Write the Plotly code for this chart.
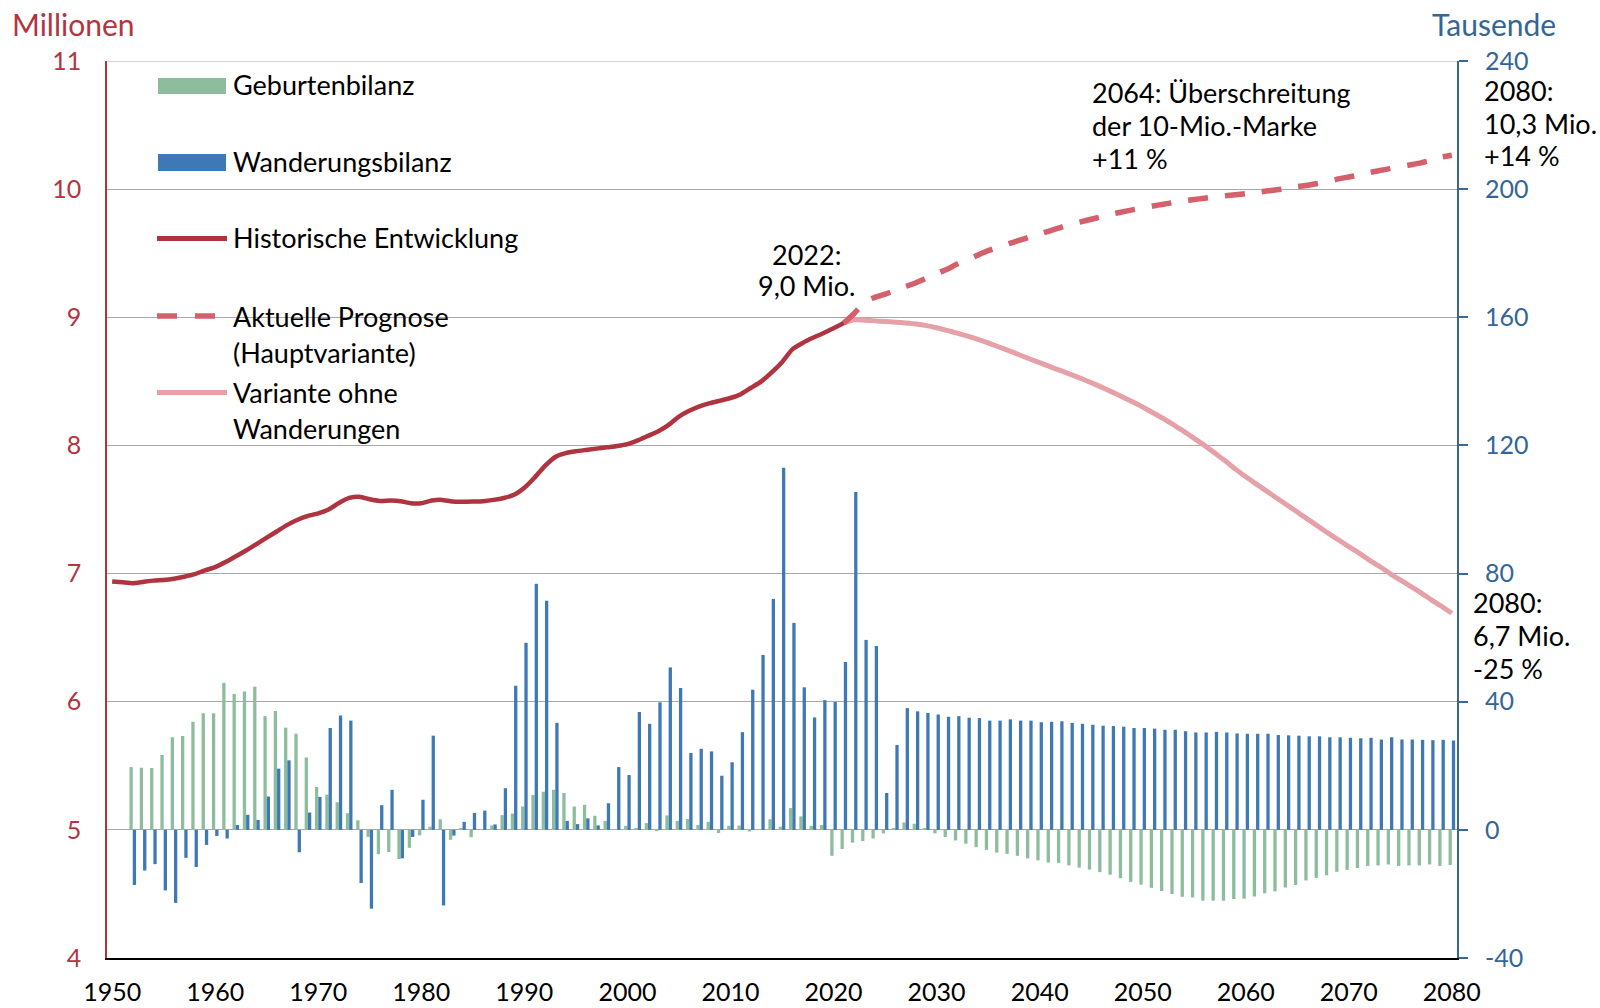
import plotly.graph_objects as go

# ---------------- data ----------------
bar_years = list(range(1952, 2081))
geburtenbilanz = [
    19.6, 19.4, 19.3, 23.4, 28.9, 29.3, 33.75, 36.4, 36.4,            # 1952-1960
    45.9, 42.4, 43.2, 44.7, 35.5, 37.1, 31.9, 30.0, 22.6, 13.4,       # 1961-1970
    11.0, 8.6, 5.2, 3.0, -2.2, -7.6, -6.9, -9.1, -5.6, -1.7,          # 1971-1980
    1.0, 3.3, -3.1, 0.6, -2.3, 0.2, 1.4, 4.6, 5.1, 7.3,               # 1981-1990
    10.9, 11.9, 12.5, 11.5, 7.3, 7.8, 4.4, 2.8, 0.2, 1.25,            # 1991-2000
    0.5, 2.1, -0.4, 4.5, 2.8, 3.4, 1.5, 2.5, -1.0, 1.25,              # 2001-2010
    1.35, -0.5, 0.1, 3.3, 1.0, 6.8, 4.2, 1.25, 1.5, -8.1,             # 2011-2020
    -6.0, -4.0, -3.5, -2.7, -1.1, 0.6, 2.3, 1.9, 0.4, -1.1,           # 2021-2030
    -2.2, -3.3, -4.3, -5.4, -6.25, -7.1, -7.5, -8.1, -8.9, -9.5,      # 2031-2040
    -10.2, -10.3, -11.1, -11.8, -12.4, -13.2, -14.0, -15.1, -16.25, -17.1,  # 2041-2050
    -18.1, -19.1, -20.0, -20.9, -21.1, -22.1, -22.1, -22.1, -21.6, -21.5,   # 2051-2060
    -20.8, -19.8, -19.2, -18.0, -17.2, -15.8, -15.0, -14.2, -13.1, -12.5,   # 2061-2070
    -11.9, -11.25, -11.1, -10.8, -11.25, -11.1, -11.1, -10.8, -11.25, -11.0 # 2071-2080
]
wanderungsbilanz = [
    -17.2, -12.7, -10.7, -18.9, -22.8, -8.75, -11.6, -4.7, -1.9,      # 1952-1960
    -2.7, 1.5, 4.7, 3.1, 10.4, 19.1, 21.7, -7.0, 5.4, 10.3,           # 1961-1970
    31.8, 35.7, 34.1, -16.6, -24.6, 7.7, 12.5, -8.9, -2.2, 9.4,       # 1971-1980
    29.4, -23.6, -1.8, 2.5, 5.3, 6.0, 1.7, 13.0, 45.0, 58.4,          # 1981-1990
    76.8, 71.5, 33.4, 2.8, 1.8, 3.6, 1.4, 8.3, 19.6, 17.1,            # 1991-2000
    36.8, 33.1, 39.8, 50.7, 44.3, 24.0, 25.3, 24.5, 16.9, 21.1,       # 2001-2010
    30.5, 43.75, 54.6, 72.1, 113.0, 64.6, 44.5, 35.1, 40.5, 39.9,     # 2011-2020
    52.4, 105.5, 59.3, 57.4, 11.5, 26.5, 38.0, 37.0, 36.5, 36.0,      # 2021-2030
    35.3, 35.5, 35.0, 34.9, 34.1, 34.1, 34.5, 34.1, 34.1, 33.6,       # 2031-2040
    33.75, 33.9, 33.4, 33.1, 32.8, 32.5, 32.4, 32.2, 31.8, 31.8,      # 2041-2050
    31.6, 31.25, 31.25, 30.8, 30.4, 30.4, 30.6, 30.4, 30.1, 30.0,     # 2051-2060
    30.0, 30.0, 29.6, 29.5, 29.4, 29.2, 29.2, 28.9, 28.9, 28.75,      # 2061-2070
    28.6, 28.75, 28.2, 28.9, 28.2, 28.2, 28.1, 28.0, 28.1, 27.9       # 2071-2080
]

hist_years = list(range(1950, 2022))
historische_entwicklung = [
    6.938, 6.932, 6.925, 6.935, 6.945, 6.950, 6.960, 6.975, 6.995, 7.025,   # 1950-1959
    7.050, 7.090, 7.135, 7.180, 7.230, 7.280, 7.330, 7.380, 7.420, 7.450,   # 1960-1969
    7.470, 7.500, 7.550, 7.590, 7.600, 7.580, 7.567, 7.570, 7.565, 7.548,   # 1970-1979
    7.549, 7.570, 7.575, 7.562, 7.560, 7.562, 7.565, 7.575, 7.590, 7.615,   # 1980-1989
    7.670, 7.750, 7.840, 7.910, 7.940, 7.955, 7.965, 7.975, 7.985, 7.995,   # 1990-1999
    8.010, 8.040, 8.075, 8.110, 8.160, 8.225, 8.270, 8.305, 8.330, 8.350,   # 2000-2009
    8.370, 8.400, 8.450, 8.500, 8.570, 8.650, 8.750, 8.800, 8.840, 8.875,   # 2010-2019
    8.915, 8.955                                                            # 2020-2021
]

prog_years = list(range(2021, 2081))
aktuelle_prognose = [
    8.955, 9.030, 9.115, 9.155, 9.180, 9.210, 9.240, 9.270, 9.305, 9.340,   # 2021-2030
    9.375, 9.415, 9.450, 9.485, 9.520, 9.548, 9.574, 9.600, 9.625, 9.650,   # 2031-2040
    9.675, 9.700, 9.725, 9.745, 9.765, 9.785, 9.805, 9.822, 9.838, 9.853,   # 2041-2050
    9.868, 9.882, 9.896, 9.908, 9.919, 9.929, 9.939, 9.948, 9.956, 9.965,   # 2051-2060
    9.975, 9.985, 9.995, 10.005, 10.020, 10.030, 10.045, 10.060, 10.080, 10.095,  # 2061-2070
    10.110, 10.130, 10.145, 10.160, 10.175, 10.190, 10.205, 10.225, 10.250, 10.265 # 2071-2080
]
variante_ohne_wanderungen = [
    8.955, 8.980, 8.977, 8.972, 8.967, 8.962, 8.955, 8.947, 8.935, 8.918,   # 2021-2030
    8.898, 8.876, 8.853, 8.828, 8.800, 8.770, 8.740, 8.708, 8.676, 8.646,   # 2031-2040
    8.615, 8.585, 8.555, 8.523, 8.490, 8.455, 8.418, 8.380, 8.340, 8.300,   # 2041-2050
    8.255, 8.210, 8.160, 8.110, 8.055, 8.000, 7.940, 7.880, 7.815, 7.755,   # 2051-2060
    7.700, 7.645, 7.590, 7.535, 7.480, 7.425, 7.370, 7.315, 7.263, 7.210,   # 2061-2070
    7.160, 7.105, 7.055, 7.000, 6.950, 6.900, 6.850, 6.795, 6.745, 6.690    # 2071-2080
]

x_ticks = list(range(1950, 2081, 10))
left_ticks = [4, 5, 6, 7, 8, 9, 10, 11]
right_ticks = [-40, 0, 40, 80, 120, 160, 200, 240]
right_tick_labels = ["-40", "0", "40", "80", "120", "160", "200", "240"]

# ---------------- style ----------------
FONT = "Lato, Carlito, Calibri, sans-serif"
FS_TICK = 25
FS_TEXT = 27
FS_TITLE = 30
GREEN = "#8DBD9D"
BLUE = "#3E79B5"
RED_DARK = "#AF3440"
RED_DASH = "#D4606B"
PINK = "#E6A1A8"
RED_TEXT = "#B3343F"
BLUE_TEXT = "#336597"
BLUE_AXIS = "#3B6794"
GRID = "#A8A8A8"

W, H = 1600, 1008
ML, MR, MT, MB = 107, 143, 61, 50
PW, PH = W - ML - MR, H - MT - MB


def px(X):
    return (X - ML) / PW


def py(Y):
    return (H - MB - Y) / PH


fig = go.Figure()

fig.add_trace(go.Bar(
    x=bar_years, y=geburtenbilanz, name="Geburtenbilanz",
    marker=dict(color=GREEN, line=dict(width=0)), yaxis="y", showlegend=False))
fig.add_trace(go.Bar(
    x=bar_years, y=wanderungsbilanz, name="Wanderungsbilanz",
    marker=dict(color=BLUE, line=dict(width=0)), yaxis="y", showlegend=False))

fig.add_trace(go.Scatter(
    x=prog_years, y=variante_ohne_wanderungen, name="Variante ohne Wanderungen",
    mode="lines", line=dict(color=PINK, width=5, shape="spline", smoothing=0.6),
    yaxis="y2", showlegend=False))
fig.add_trace(go.Scatter(
    x=prog_years, y=aktuelle_prognose, name="Aktuelle Prognose (Hauptvariante)",
    mode="lines", line=dict(color=RED_DASH, width=5.5, dash="20px,17px",
                            shape="spline", smoothing=0.6),
    yaxis="y2", showlegend=False))
fig.add_trace(go.Scatter(
    x=hist_years, y=historische_entwicklung, name="Historische Entwicklung",
    mode="lines", line=dict(color=RED_DARK, width=4.5, shape="spline", smoothing=0.5),
    yaxis="y2", showlegend=False))

# ---------------- manual legend & frame ----------------
shapes = []
# top border of the plot area (gray, like the gridlines)
shapes.append(dict(type="line", xref="paper", yref="y", x0=0, x1=1, y0=240, y1=240,
                   line=dict(color=GRID, width=1.2), layer="between"))
# white legend background hiding the gridlines
shapes.append(dict(type="rect", xref="paper", yref="paper",
                   x0=px(143.6), x1=px(520), y0=py(456), y1=py(63),
                   fillcolor="white", line=dict(width=0), layer="between"))
shapes.append(dict(type="rect", xref="paper", yref="paper",
                   x0=px(158), x1=px(226), y0=py(94), y1=py(78),
                   fillcolor=GREEN, line=dict(width=0)))
shapes.append(dict(type="rect", xref="paper", yref="paper",
                   x0=px(158), x1=px(226), y0=py(171), y1=py(154),
                   fillcolor=BLUE, line=dict(width=0)))
shapes.append(dict(type="line", xref="paper", yref="paper",
                   x0=px(157), x1=px(227), y0=py(238.5), y1=py(238.5),
                   line=dict(color=RED_DARK, width=5)))
shapes.append(dict(type="line", xref="paper", yref="paper",
                   x0=px(157), x1=px(227), y0=py(316), y1=py(316),
                   line=dict(color=RED_DASH, width=5.5, dash="20px,18px")))
shapes.append(dict(type="line", xref="paper", yref="paper",
                   x0=px(157), x1=px(227), y0=py(392.5), y1=py(392.5),
                   line=dict(color=PINK, width=5)))

annotations = []


def text(t, X, Y, anchor="left", color="black", size=FS_TEXT):
    annotations.append(dict(text=t, xref="paper", yref="paper", x=px(X), y=py(Y),
                            xanchor=anchor, yanchor="middle", showarrow=False,
                            borderpad=0,
                            font=dict(family=FONT, size=size, color=color)))


text("Geburtenbilanz", 232, 85)
text("Wanderungsbilanz", 232, 162)
text("Historische Entwicklung", 232, 238)
text("Aktuelle Prognose", 232, 316)
text("(Hauptvariante)", 232, 352)
text("Variante ohne", 232, 392)
text("Wanderungen", 232, 428)

text("2022:", 806.5, 254, anchor="center")
text("9,0 Mio.", 806.5, 285, anchor="center")

text("2064: Überschreitung", 1091, 92)
text("der 10-Mio.-Marke", 1091, 126)
text("+11 %", 1091, 159)

text("2080:", 1483, 91)
text("10,3 Mio.", 1483, 124)
text("+14 %", 1483, 156)

text("2080:", 1472, 602)
text("6,7 Mio.", 1472, 635)
text("-25 %", 1472, 668)

text("Millionen", 73, 24, anchor="center", color=RED_TEXT, size=FS_TITLE)
text("Tausende", 1494, 24, anchor="center", color=BLUE_TEXT, size=FS_TITLE)

fig.update_layout(
    width=W, height=H,
    margin=dict(l=ML, r=MR, t=MT, b=MB, pad=0, autoexpand=False),
    paper_bgcolor="white", plot_bgcolor="white",
    font=dict(family=FONT, size=FS_TICK, color="black"),
    barmode="group", bargap=0.36, bargroupgap=0.0,
    showlegend=False,
    xaxis=dict(type="linear", range=[1949.5, 2080.5], tickvals=x_ticks,
               showgrid=False, zeroline=False, showline=True, linecolor="black",
               linewidth=1.5, ticks="", ticklabelstandoff=11, automargin=False,
               tickfont=dict(family=FONT, size=FS_TICK, color="black")),
    yaxis=dict(side="right", range=[-40, 240], tickvals=right_ticks,
               ticktext=right_tick_labels,
               showgrid=True, gridcolor=GRID, gridwidth=1.2,
               zeroline=True, zerolinecolor=GRID, zerolinewidth=1.2,
               showline=True, linecolor=BLUE_AXIS, linewidth=1.8,
               ticks="outside", ticklen=9, tickwidth=1.8, tickcolor=BLUE_AXIS,
               ticklabelstandoff=12, automargin=False,
               tickfont=dict(family=FONT, size=FS_TICK, color=BLUE_TEXT)),
    yaxis2=dict(overlaying="y", side="left", range=[4, 11], tickvals=left_ticks,
                showgrid=False, zeroline=False, showline=True, linecolor=RED_DARK,
                linewidth=1.5, ticks="", ticklabelstandoff=19, automargin=False,
                tickfont=dict(family=FONT, size=FS_TICK, color=RED_TEXT)),
    shapes=shapes,
    annotations=annotations,
)

fig.write_html("out.html", config={"displayModeBar": False},
               post_script="document.body.style.margin='0px';")
